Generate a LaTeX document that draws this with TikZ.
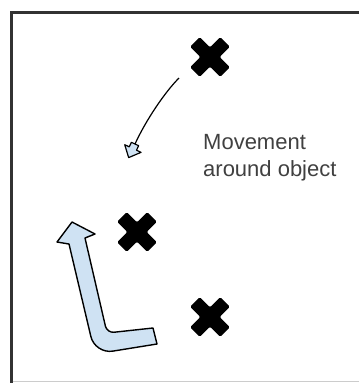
\documentclass[tikz,border=0pt]{standalone}
\usepackage{fontspec}
\setmainfont{Liberation Sans}
\definecolor{paleblue}{RGB}{207,226,243}
\definecolor{frame}{RGB}{50,50,50}
\definecolor{textgray}{RGB}{64,64,64}
\tikzset{
  framestroke/.style={line width=3pt, draw=frame},
  xmark/.pic={
    \fill[rotate=45, rounded corners=1.5pt]
      (6.75,6.75) -- (6.75,21.3) -- (-6.75,21.3) -- (-6.75,6.75)
      -- (-21.3,6.75) -- (-21.3,-6.75) -- (-6.75,-6.75) -- (-6.75,-21.3)
      -- (6.75,-21.3) -- (6.75,-6.75) -- (21.3,-6.75) -- (21.3,6.75) -- cycle;
  },
  thinline/.style={line width=1.2pt, draw=black},
  blockhead/.style={fill=paleblue, draw=black, line width=1.2pt, line join=round},
  bigarrow/.style={fill=paleblue, draw=black, line width=1.4pt, line join=round},
  caption/.style={inner sep=0pt, align=left, text=textgray,
    font=\fontsize{22}{27}\selectfont}
}
\begin{document}
\begin{tikzpicture}[x=1pt, y=-1pt]
  \useasboundingbox (0,0) rectangle (359,383);
  % frame: heavy top and left edges, faint bottom edge
  \draw[framestroke] (359,12.5) -- (11,12.5) -- (11,383);
  \draw[line width=1pt, draw=black!20] (12.5,381.5) -- (359,381.5);

  % obstacle markers
  \coordinate (top) at (210,57);
  \coordinate (mid) at (137,232);
  \coordinate (low) at (210,317);
  \pic at (top) {xmark};
  \pic at (mid) {xmark};
  \pic at (low) {xmark};

  % thin curved path with a small block head
  \coordinate (from) at (179,78);
  \coordinate (to) at (135,144);
  \draw[thinline] (from) .. controls (165,92) and (146,120) .. (to);
  \begin{scope}[shift={(to)}, rotate=245]
    \draw[blockhead] (0,4) -- (5,4) -- (5,9) -- (15,0) -- (5,-9)
      -- (5,-4) -- (0,-4) -- cycle;
  \end{scope}

  \node[caption, anchor=north west] (label) at (203,134)
    {Movement\\around object};

  % wide bent arrow around the lower markers
  \draw[bigarrow] (72,222) -- (95,234) -- (85,238)
    [rounded corners=7pt] -- (107,333) [sharp corners] -- (153,328)
    -- (157,344) [rounded corners=18pt] -- (95,354) [sharp corners]
    -- (69,244) -- (57,242) -- cycle;
\end{tikzpicture}
\end{document}
